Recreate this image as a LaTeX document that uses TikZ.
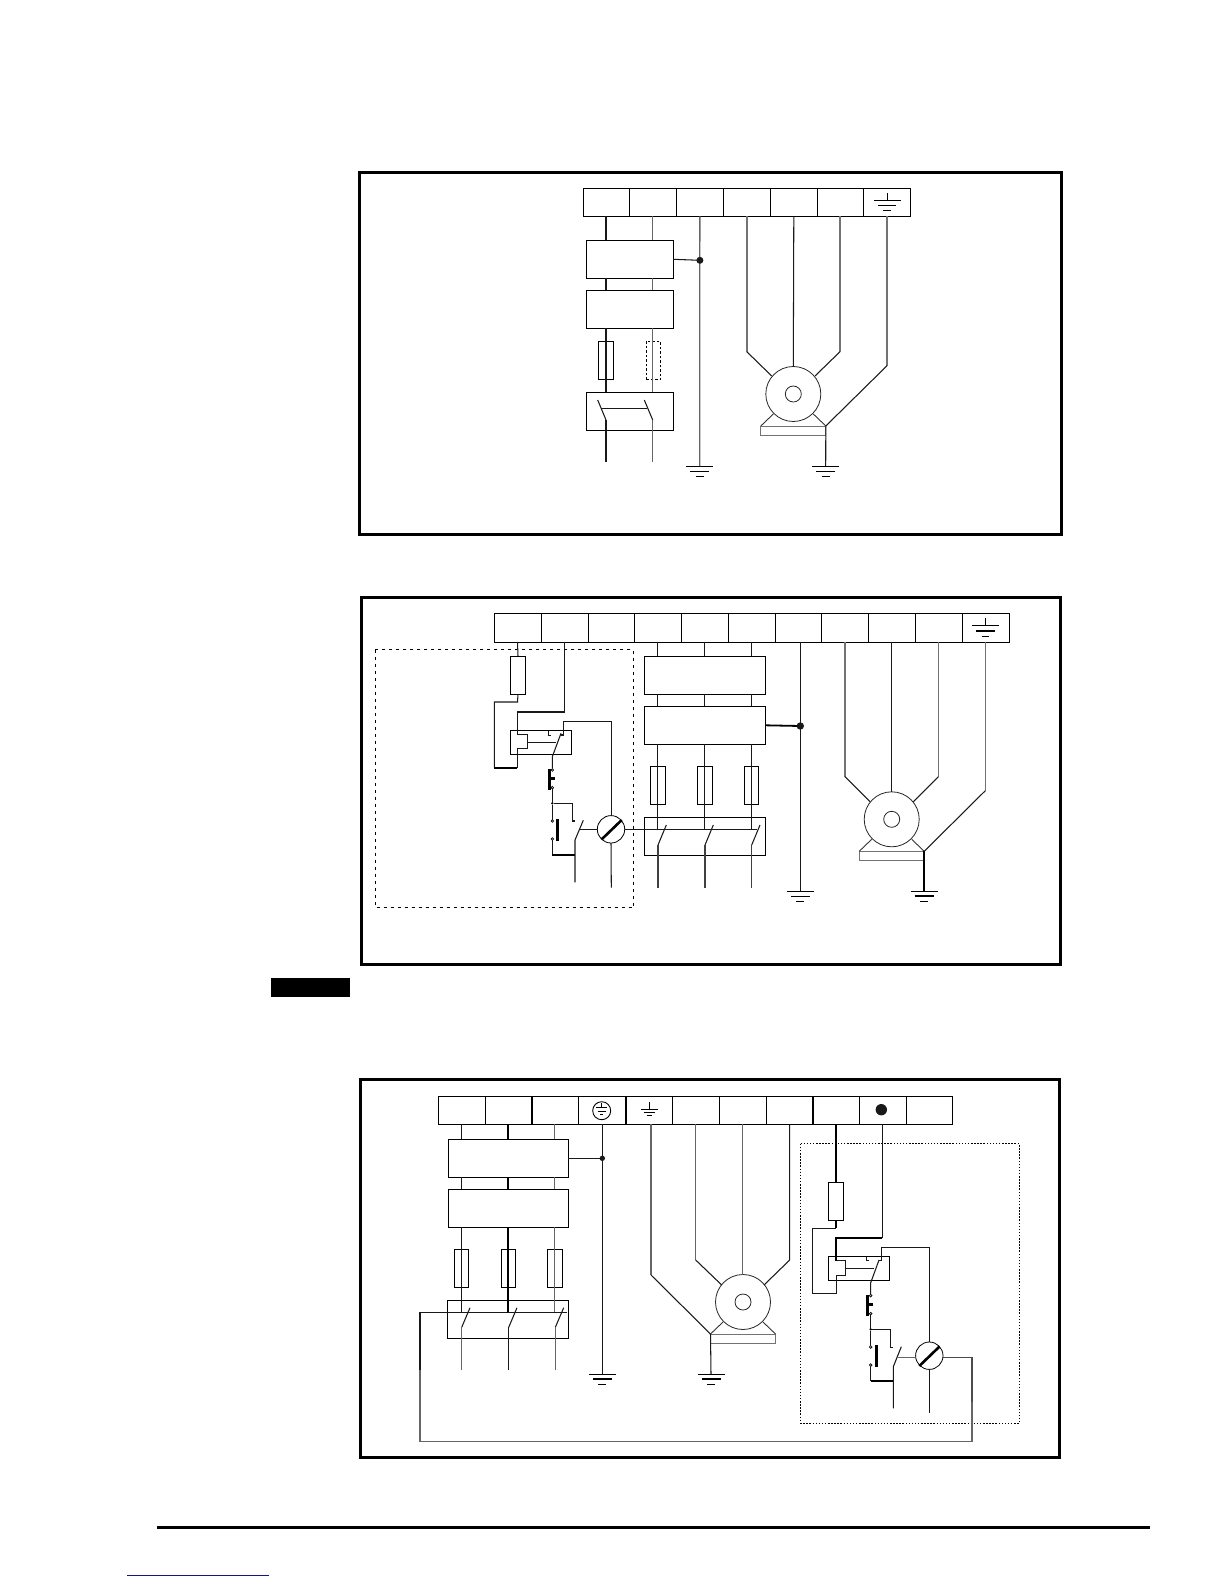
\documentclass[tikz,border=0pt]{standalone}
\usetikzlibrary{calc}
\definecolor{linkblue}{RGB}{20,20,130}
\tikzset{
  frame/.style={draw=black,line width=3pt,fill=none},
  cell/.style={draw=black,line width=1pt,inner sep=0pt,outer sep=0pt,rectangle},
  comp/.style={draw=black,line width=1pt,inner sep=0pt,outer sep=0pt,rectangle},
  dashedfuse/.style={draw=black,line width=.8pt,dash pattern=on 2.5pt off 2pt,inner sep=0pt,outer sep=0pt,rectangle},
  wire/.style={line width=1.05pt,black!90},
  gwire/.style={line width=1.3pt,black!60},
  lgwire/.style={line width=1.4pt,black!55},
  twire/.style={line width=1.8pt,black},
  motorring/.style={circle,draw=black!85,line width=.8pt,inner sep=0pt,outer sep=0pt},
  basebox/.style={draw=black!55,line width=1pt,inner sep=0pt,outer sep=0pt,rectangle},
  junction/.style={circle,fill=black!90,inner sep=0pt,outer sep=0pt},
  contact/.style={circle,draw=black,fill=white,line width=.7pt,minimum size=2.6pt,inner sep=0pt,outer sep=0pt},
  smalldot/.style={circle,fill=black,minimum size=2.6pt,inner sep=0pt,outer sep=0pt},
  gate/.style={circle,draw=black,fill=white,line width=.8pt,minimum size=27.4pt,inner sep=0pt,outer sep=0pt},
  slash/.style={line width=2.6pt,black},
  bar/.style={line width=3pt,black},
  pan2dash/.style={draw=black,line width=1.3pt,dash pattern=on 3pt off 4pt},
  pan3dash/.style={draw=black,line width=1.4pt,dash pattern=on 1.5pt off 1.6pt},
}
% name, style, x1,y1,x2,y2
\newcommand{\pbox}[6]{%
  \pgfmathsetmacro\bw{(#5)-(#3)}\pgfmathsetmacro\bh{(#6)-(#4)}%
  \node[#2,minimum width=\bw pt,minimum height=\bh pt,anchor=north west] (#1) at (#3,#4) {};}
% name, x, y, second-bar width
\newcommand{\gnd}[4]{%
  \coordinate (#1) at (#2,#3);
  \draw[line width=1pt] ($(#1)+(-13.5,0)$) -- ($(#1)+(13.5,0)$);
  \draw[line width=#4] ($(#1)+(-9.5,5.4)$) -- ($(#1)+(9.5,5.4)$);
  \draw[line width=1pt] ($(#1)+(-4,10.8)$) -- ($(#1)+(4,10.8)$);}
% name, cx, cy
\newcommand{\motor}[3]{%
  \node[motorring,minimum size=55pt] (#1) at (#2,#3) {};
  \node[motorring,minimum size=16pt] (#1i) at (#2,#3) {};
  \pbox{#1b}{basebox}{#2-32.5}{#3+32}{#2+32.5}{#3+41.3}
  \draw[line width=.9pt,black!80] (#1b.north west) -- ($(#1)+(-20,20)$);
  \draw[line width=.9pt,black!80] (#1b.north east) -- ($(#1)+(20,20)$);}
\begin{document}
\begin{tikzpicture}[x=1pt,y=-1pt,line cap=butt,line join=miter]
\useasboundingbox (0,0) rectangle (1224,1584);
\fill[white] (0,0) rectangle (1224,1584);

% ---------- page furniture
\node[rectangle,fill=black,inner sep=0pt,minimum width=79pt,minimum height=19pt,anchor=north west] (tab) at (271,978) {};
\coordinate (ruleL) at (157,1527.3); \coordinate (ruleR) at (1150,1527.3);
\draw[line width=3pt] (ruleL) -- (ruleR);
\coordinate (linkL) at (127,1575); \coordinate (linkR) at (269,1575);
\draw[line width=1pt,linkblue] (linkL) -- (linkR);

% ---------- frames
\draw[frame] (359.3,172.7) rectangle (1061,534.3);
\draw[frame] (361.5,597.3) rectangle (1060,964.3);
\draw[frame] (360.3,1079.7) rectangle (1059.3,1457.3);

% ========== PANEL 1
\pbox{a1}{cell}{583.3}{188.3}{629.3}{216.3}
\pbox{a2}{cell}{629.3}{188.3}{676.3}{216.3}
\pbox{a3}{cell}{676.3}{188.3}{723.3}{216.3}
\pbox{a4}{cell}{723.3}{188.3}{770.3}{216.3}
\pbox{a5}{cell}{770.3}{188.3}{817.3}{216.3}
\pbox{a6}{cell}{817.3}{188.3}{863.3}{216.3}
\pbox{a7}{cell}{863.3}{188.3}{910.7}{216.3}
\pbox{aF}{comp}{586.3}{240.3}{673.3}{278.3}
\pbox{aD}{comp}{586.3}{290.3}{673.3}{328.3}
\pbox{aS}{comp}{586.3}{392.3}{673.3}{430.3}
\pbox{afu}{comp}{598.3}{341.3}{613.7}{379.3}
\pbox{afv}{dashedfuse}{646}{341.3}{660.7}{379.3}
% symbol in terminal
\coordinate (aE) at (887,200);
\draw[line width=.9pt] (887,193) -- (aE);
\draw[line width=.9pt] ($(aE)+(-13.5,0)$) -- ($(aE)+(13.5,0)$);
\draw[line width=.9pt] ($(aE)+(-9,5)$) -- ($(aE)+(9,5)$);
\draw[line width=.9pt] ($(aE)+(-3.7,10)$) -- ($(aE)+(3.7,10)$);
% wires
\draw[wire] (606,216.3) -- (606,240.3) (606,278.3) -- (606,290.3) (606,328.3) -- (606,392.3);
\draw[gwire] (652.7,216.3) -- (652.7,240.3) (652.7,278.3) -- (652.7,290.3) (652.7,328.3) -- (652.7,392.3);
\draw[wire] (606,420) -- (606,462);
\draw[gwire] (652.7,420) -- (652.7,462);
\draw[wire] (606,420) -- (597.7,400);
\draw[wire] (652.7,420) -- (644.3,400);
\draw[wire] (601,408.3) -- (647.3,408.3);
\gnd{ag1}{699.7}{466}{1pt}
\draw[line width=1.4pt,black!60] (a3.south) -- (ag1);
\draw[wire] (aF.east) -- (699.7,260.3);
\node[junction,minimum size=7pt] (ad) at (699.9,260.3) {};
\motor{am}{793.3}{394}
\draw[lgwire] (a4.south) -- (746.8,351.7);
\draw[wire] (746.8,351.7) -- (771.7,376);
\draw[wire] (a5.south) -- (793.3,366.7);
\draw[lgwire] (840,216.3) -- (840,351.7);
\draw[wire] (840,351.7) -- (815,376);
\draw[lgwire] (887,216.3) -- (887,365.7);
\draw[wire] (887,365.7) -- (amb.north east);
\gnd{ag2}{825.7}{466}{1pt}
\draw[wire] (amb.north east) -- (ag2);

% ========== PANEL 2
\foreach \n/\xa/\xb in {1/494.3/541.3,2/541.3/588.3,3/588.3/634.7,4/634.7/681.7,5/681.7/728.7,6/728.7/775.7,7/775.7/821.3,8/821.3/868.3,9/868.3/915.3,10/915.3/962.3,11/962.3/1009.7}{
  \pbox{b\n}{cell}{\xa}{613.3}{\xb}{642.3}
}
\draw[pan2dash] (375.3,649.7) rectangle (633.5,907.5);
\pbox{bF}{comp}{644.3}{656.3}{765.3}{694.3}
\pbox{bD}{comp}{644.3}{706.3}{765.3}{744.3}
\pbox{bS}{comp}{644.3}{817.3}{765.3}{855.3}
\pbox{bf1}{comp}{650.3}{766.3}{665.7}{804.3}
\pbox{bf2}{comp}{697.3}{766.3}{712.7}{804.3}
\pbox{bf3}{comp}{744.3}{766.3}{758.7}{804.3}
\pbox{bR}{comp}{510.3}{656.3}{525.7}{694.3}
\pbox{bK}{comp}{510.3}{730.3}{571.3}{754.3}
% terminal earth
\coordinate (bE) at (985.3,625);
\draw[line width=.9pt] (985.3,618.3) -- (bE);
\draw[line width=.9pt] ($(bE)+(-13.5,0)$) -- ($(bE)+(13.5,0)$);
\draw[line width=1.8pt] ($(bE)+(-9.5,5.7)$) -- ($(bE)+(9.5,5.7)$);
\draw[line width=.9pt] ($(bE)+(-3.8,11)$) -- ($(bE)+(3.8,11)$);
% 3 phase
\foreach \x in {657.8,704.6,751.6}{
  \draw[wire] (\x,642.3) -- (\x,656.3) (\x,694.3) -- (\x,706.3) (\x,744.3) -- (\x,829.3);
}
\foreach \x in {658,705,751.7}{
  \draw[wire] (\x,845) -- ($(\x,845)+(8.3,-20)$);
  \draw[line width=1.2pt,black!75] (\x,845) -- (\x,887.7);
}
\draw[wire] (625,829.3) -- (757,829.3);
% control circuit
\draw[wire] (517.5,642.3) -- (bR.north);
\draw[wire] (bR.south) -- (517.5,702) -- (494.3,702) -- (494.3,767.7);
\draw[twire] (494.3,767.7) -- (517.3,767.7);
\draw[wire] (517.3,767.7) -- (517.3,748.3) -- (527.7,748.3) -- (527.7,734.7) -- (517.3,734.7) -- (517.3,712) -- (564.5,712) -- (564.5,642.3);
\draw[wire] (527.7,742.3) -- (556,742.3);
\node[contact] (bc1) at (552.3,770) {};
\node[contact] (bc2) at (552.3,787.7) {};
\node[smalldot] (bj) at (552.3,803.3) {};
\node[contact] (bc3) at (552.3,821) {};
\node[contact] (bc4) at (552.3,839) {};
\draw[wire] (561,733.3) -- (552.3,756.7) -- (bc1);
\draw[wire] (548.3,730.7) -- (548.3,735.3) -- (551,735.3);
\draw[wire] (561,735) -- (563.3,735) -- (563.3,721.3) -- (611.3,721.3) -- (611.3,815.7);
\draw[bar,line width=2.6pt] (549.3,769.3) -- (549.3,789.7);
\draw[bar] (549.3,778.7) -- (555,778.7);
\draw[wire] (bc2) -- (bj) -- (bc3);
\draw[wire] (bj) -- (572.3,803.3) -- (572.3,821) -- (575,821);
\draw[bar] (557.3,819) -- (557.3,841);
\draw[wire] (bc4) -- (552.3,855);
\draw[twire] (552.3,855) -- (575,855);
\draw[wire] (583.3,820.3) -- (575,840) -- (575,882.3);
\draw[wire] (579.3,829.3) -- (597.3,829.3);
\node[gate] (bM) at (611,829.3) {};
\draw[slash] (601.7,839.3) -- (621.7,820);
\draw[wire] (bM.south) -- (611.3,887.7);
% earth and motor
\gnd{bg1}{800.3}{891}{1pt}
\draw[wire] (800.3,642.3) -- (bg1);
\draw[twire] (bD.east) -- (800.3,726);
\node[junction,minimum size=7.4pt] (bd) at (800.3,726) {};
\motor{bm}{891.7}{819.3}
\draw[lgwire] (845,642.3) -- (845,776.7);
\draw[wire] (845,776.7) -- (870,801.7);
\draw[wire] (891.5,642.3) -- (891.5,792);
\draw[lgwire] (938.3,642.3) -- (938.3,776.7);
\draw[wire] (938.3,776.7) -- (913.3,801.7);
\draw[lgwire] (985.3,642.3) -- (985.3,790.7);
\draw[wire] (985.3,790.7) -- (bmb.north east);
\gnd{bg2}{924.2}{891}{2pt}
\draw[twire] (bmb.north east) -- (bg2);

% ========== PANEL 3
\foreach \n/\xa/\xb in {1/438.3/485.7,2/485.7/532,3/532/578.7,4/578.7/626,5/626/672.3,6/672.3/719.3,7/719.3/766.7,8/766.7/813,9/813/859.3,10/859.3/906.7,11/906.7/952.7}{
  \pbox{c\n}{cell}{\xa}{1096.7}{\xb}{1124.3}
}
\draw[line width=1.6pt] (532,1096.7) -- (532,1124.3) (626,1096.7) -- (626,1124.3) (813,1096.7) -- (813,1124.3);
\draw[pan3dash] (800.7,1143.7) rectangle (1019.3,1423.3);
\pbox{cF}{comp}{448.3}{1139.3}{568.3}{1177.3}
\pbox{cD}{comp}{448.3}{1189.3}{568.3}{1227.3}
\pbox{cS}{comp}{447.3}{1300.3}{568.3}{1338.3}
\pbox{cf1}{comp}{454.3}{1249.3}{468.7}{1287.3}
\pbox{cf2}{comp}{501.3}{1249.3}{515.7}{1287.3}
\pbox{cf3}{comp}{547.3}{1249.3}{562.7}{1287.3}
\pbox{cR}{comp}{828.3}{1182.3}{843.7}{1220.3}
\pbox{cK}{comp}{828.3}{1256.3}{889.7}{1280.3}
% PE symbol
\node[circle,draw=black,line width=.9pt,minimum size=18pt,inner sep=0pt] (cPE) at (601.7,1110.7) {};
\draw[line width=.8pt] (601.7,1103.4) -- (601.7,1107.7);
\draw[line width=.8pt] (596,1107.7) -- (607.4,1107.7);
\draw[line width=.8pt] (597.7,1111) -- (605.7,1111);
\draw[line width=1.5pt] (600,1114.6) -- (603.4,1114.6);
\node[junction,minimum size=11.4pt] (cdot) at (881.3,1109.7) {};
% earth symbol
\draw[line width=.8pt] (649.3,1101.7) -- (649.3,1109.3);
\draw[line width=.8pt] (641,1109.3) -- (657.7,1109.3);
\draw[line width=.8pt] (644,1112.3) -- (655,1112.3);
\draw[line width=.8pt] (646.7,1115) -- (652.3,1115);
% 3 phase wires
\foreach \x/\s in {461.3/wire,507.7/twire,554.7/gwire}{
  \draw[\s] (\x,1124.3) -- (\x,1139.3) (\x,1177.3) -- (\x,1189.3) (\x,1227.3) -- (\x,1312.3);
}
\draw[wire] (461.7,1327.3) -- (470,1307.7);
\draw[wire] (508.7,1327.3) -- (517,1307.7);
\draw[wire] (555.3,1327.3) -- (563.7,1307.7);
\draw[gwire] (461.7,1327.3) -- (461.7,1370);
\draw[wire] (508.7,1327.3) -- (508.7,1370);
\draw[gwire] (555.3,1327.3) -- (555.3,1370);
\draw[wire] (566.7,1312.3) -- (420,1312.3) -- (420,1372);
\draw[gwire,line width=1.2pt] (420,1370) -- (420,1441.7) -- (972,1441.7) -- (972,1400);
\draw[line width=1.4pt,black!70] (972,1402) -- (972,1357.7) -- (943.3,1357.7);
% earth
\gnd{cg1}{602.3}{1374}{2pt}
\draw[wire] (602.3,1124.3) -- (cg1);
\draw[wire] (cF.east) -- (602.3,1158.3);
\node[junction,minimum size=5.4pt] (cd) at (602.3,1158.3) {};
% motor
\motor{cm}{743}{1302}
\draw[gwire] (651,1124.3) -- (651,1275);
\draw[wire] (651,1275) -- (cmb.north west);
\draw[gwire] (695.7,1124.3) -- (695.7,1260);
\draw[wire] (695.7,1260) -- (721.7,1285);
\draw[gwire] (742.7,1124.3) -- (742.7,1274.5);
\draw[wire] (789.7,1124.3) -- (789.7,1260) -- (764,1285);
\gnd{cg2}{711}{1374}{2pt}
\draw[wire] (cmb.north west) -- (cg2);
% control circuit
\draw[twire] (836,1124.3) -- (cR.north);
\draw[twire] (cR.south) -- (836,1228.3);
\draw[wire] (836,1228.3) -- (812.3,1228.3) -- (812.3,1293.3) -- (836.7,1293.3) -- (836.7,1275.7) -- (845.7,1275.7) -- (845.7,1260.7) -- (836,1260.7);
\draw[twire] (836,1260.7) -- (836,1238) -- (882.3,1238);
\draw[wire] (882.3,1238) -- (882.3,1124.3);
\draw[wire] (845.7,1268.3) -- (874.3,1268.3);
\node[contact] (cc1) at (870.7,1295.7) {};
\node[contact] (cc2) at (870.7,1313.7) {};
\node[smalldot] (cj) at (870.7,1329.3) {};
\node[contact] (cc3) at (870.7,1347) {};
\node[contact] (cc4) at (870.7,1365) {};
\draw[wire] (879,1260) -- (870.7,1282.7) -- (cc1);
\draw[wire] (866.3,1256.7) -- (866.3,1260.3) -- (869,1260.3);
\draw[wire] (879,1260.3) -- (881.3,1260.3) -- (881.3,1247.7) -- (929.3,1247.7) -- (929.3,1341.7);
\draw[bar,line width=2.6pt] (867.7,1295) -- (867.7,1315.7);
\draw[bar] (867.7,1304.7) -- (873,1304.7);
\draw[wire] (cc2) -- (cj) -- (cc3);
\draw[wire] (cj) -- (890.3,1329.3) -- (890.3,1347.3) -- (893.3,1347.3);
\draw[bar] (876.3,1345.3) -- (876.3,1366.7);
\draw[wire] (cc4) -- (870.7,1380.7);
\draw[twire] (870.7,1380.7) -- (893.3,1380.7);
\draw[wire] (901.3,1346.7) -- (893.3,1366.7) -- (893.3,1408.3);
\draw[line width=1.4pt,black!60] (897.7,1357.7) -- (915.3,1357.7);
\node[gate] (cM) at (929.3,1355.7) {};
\draw[slash] (919.3,1366) -- (939.3,1346.7);
\draw[wire] (cM.south) -- (929.3,1413.3);
\end{tikzpicture}
\end{document}
